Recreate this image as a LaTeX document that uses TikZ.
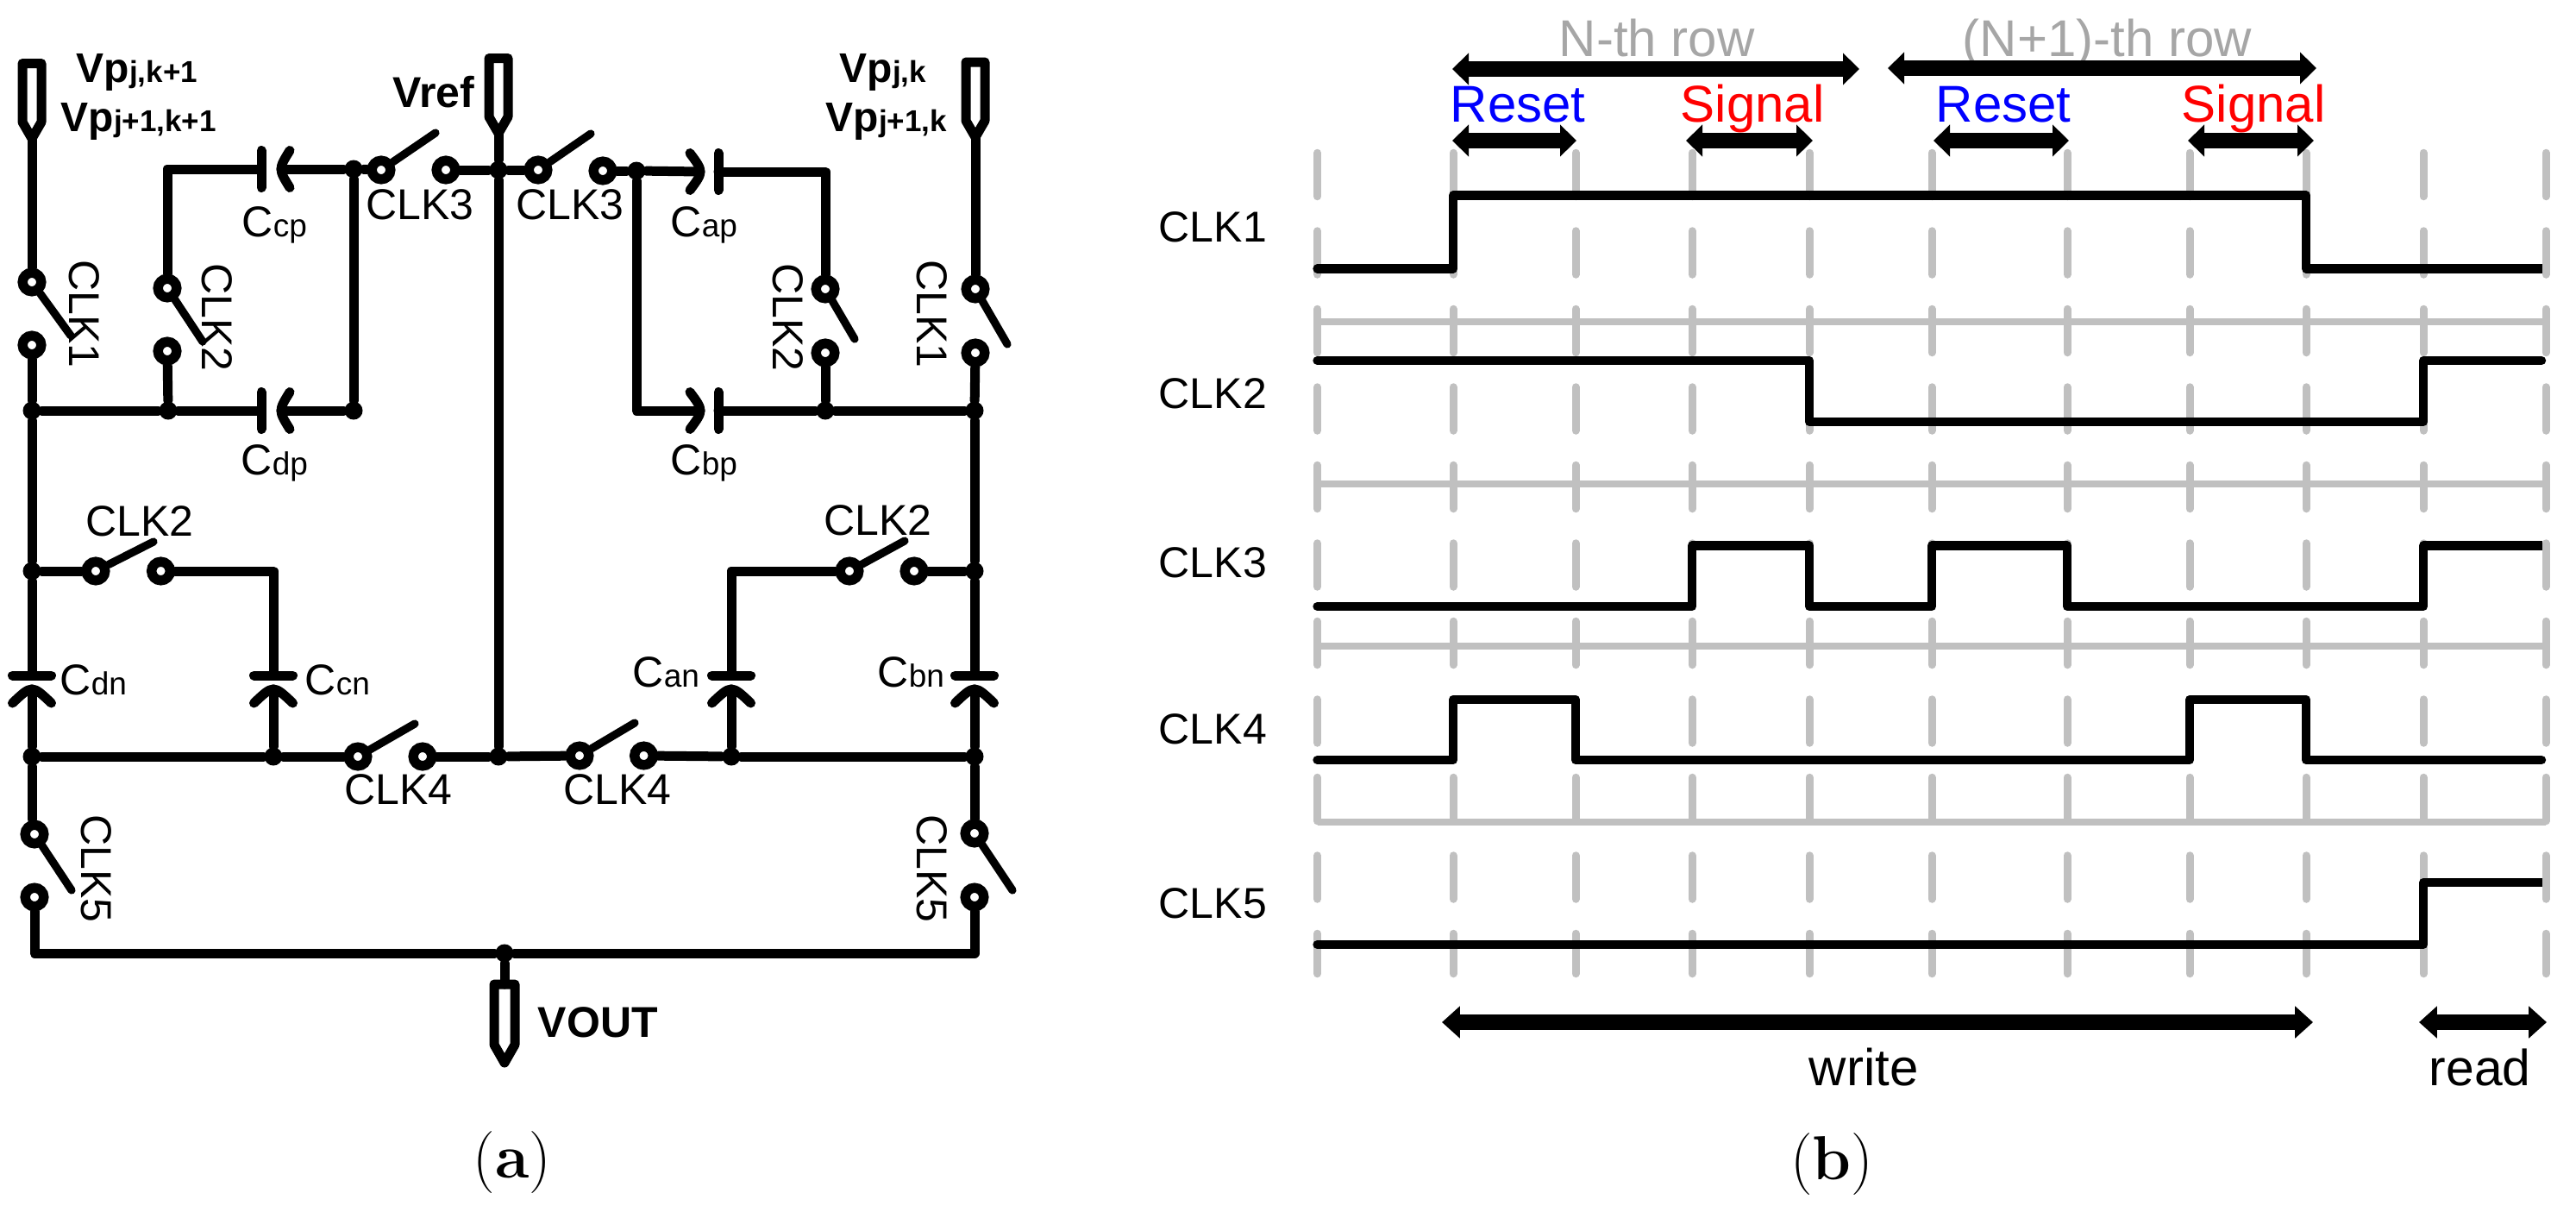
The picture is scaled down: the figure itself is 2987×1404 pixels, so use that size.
\documentclass[tikz,border=0pt]{standalone}
\usepackage{fontspec}
\usetikzlibrary{arrows.meta}
\newfontfamily\arialf{Liberation Sans}
\newcommand\fs[1]{\fontsize{#1}{#1}\selectfont}
\newcommand\capname[2]{{\fs{12.5}#1}{\fs{9.25}#2}}
\newcommand\vpname[1]{{\fs{12}Vp}{\fs{8.75}#1}}
\newcommand\padpin[3]{%
  \draw[wire] ({#2-11},#3) -- ({#2+11},#3) -- ({#2+11},{#3+68}) -- (#2,{#3+87}) -- ({#2-11},{#3+68}) -- cycle;
  \coordinate (#1) at (#2,{#3+87});}
\newcommand\hcapL[3]{%
  \coordinate (#1-a) at (#2,#3); \coordinate (#1-b) at ({#2+23},#3);
  \draw[wire] (#2,{#3-21.5}) -- (#2,{#3+21.5});
  \draw[wire] ({#2+33},{#3-21.5}) .. controls ({#2+19.7},#3) .. ({#2+33},{#3+21.5});}
\newcommand\hcapR[3]{%
  \coordinate (#1-a) at (#2,#3); \coordinate (#1-b) at ({#2-21},#3);
  \draw[wire] (#2,{#3-21.5}) -- (#2,{#3+21.5});
  \draw[wire] ({#2-33},{#3-21.5}) .. controls ({#2-17},#3) .. ({#2-33},{#3+21.5});}
\newcommand\vcapD[3]{%
  \coordinate (#1-a) at (#2,#3); \coordinate (#1-b) at (#2,{#3+16});
  \draw[wire] ({#2-22.5},#3) -- ({#2+22.5},#3);
  \draw[wire] ({#2-22.5},{#3+32}) .. controls (#2,{#3+10.7}) .. ({#2+22.5},{#3+32});}
\tikzset{
  wire/.style={line width=2.75pt,line cap=round,line join=round},
  arm/.style={line width=2.3pt,line cap=round},
  term/.style={circle,draw,line width=2.85pt,minimum size=5.4pt,inner sep=0pt},
  junc/.style={circle,fill=black,minimum size=5.25pt,inner sep=0pt},
  lab/.style={font=\arialf\fs{12.5},inner sep=0pt},
  tlab/.style={font=\arialf\fs{15},inner sep=0pt,anchor=base west},
  blab/.style={font=\arialf\bfseries\fs{12.5},inner sep=0pt,anchor=base west},
  clab/.style={font=\arialf,inner sep=0pt,anchor=base west},
  gdash/.style={draw=gridgray,line width=2.25pt,line cap=round,dash pattern=on 12.625pt off 10pt},
  gline/.style={draw=gridgray,line width=2pt},
  wave/.style={line width=2.6pt,line cap=round,line join=round},
  span/.style={line width=4.4pt,{Triangle[length=4.75pt,width=9pt]}-{Triangle[length=4.75pt,width=9pt]}},
  spanw/.style={line width=4.4pt,{Triangle[length=5.2pt,width=9pt]}-{Triangle[length=5.2pt,width=9pt]}},
  capt/.style={font=\fs{18},inner sep=0pt,anchor=base},
}
\definecolor{gridgray}{HTML}{C0C0C0}
\definecolor{rowgray}{HTML}{A6A6A6}
\definecolor{rstblue}{HTML}{0000FF}
\definecolor{sigred}{HTML}{FF0000}
\begin{document}
\begin{tikzpicture}[x=0.25pt,y=-0.25pt]
\useasboundingbox (0,0) rectangle (2987,1404);

% ---------- circuit: pins
\padpin{pL}{37}{73.5}
\padpin{pC}{578}{67.5}
\padpin{pR}{1131}{72}
\draw[wire] (573,1141) -- (597,1141) -- (597,1211) -- (585,1232) -- (573,1211) -- cycle;
\coordinate (pO) at (585,1141);

% ---------- capacitors
\hcapL{ccp}{303}{196}
\hcapL{cdp}{303}{476}
\hcapR{cap}{833}{199}
\hcapR{cbp}{833}{476}
\vcapD{cdn}{37}{783}
\vcapD{ccn}{317}{783}
\vcapD{can}{848}{783}
\vcapD{cbn}{1130}{783}

% ---------- junctions
\node[junc] (jL1) at (37,476) {};
\node[junc] (jL2) at (37,662) {};
\node[junc] (jL3) at (37,877) {};
\node[junc] (jA)  at (195,476) {};
\node[junc] (jT1) at (410,196) {};
\node[junc] (jT3) at (410,476) {};
\node[junc] (jC)  at (578,197) {};
\node[junc] (jM)  at (578,877) {};
\node[junc] (jT2) at (738,198) {};
\node[junc] (jB1) at (957,476) {};
\node[junc] (jR1) at (1130,476) {};
\node[junc] (jR2) at (1130,662) {};
\node[junc] (jR3) at (1130,877) {};
\node[junc] (jN1) at (317,877) {};
\node[junc] (jN2) at (848,877) {};
\node[junc] (jO)  at (585,1105) {};

% ---------- switch contacts
\node[term] (s1a) at (37,327) {};   \node[term] (s1b) at (37,400) {};   \coordinate (e1) at (82,389);
\node[term] (s2a) at (194,334) {};  \node[term] (s2b) at (194,407) {};  \coordinate (e2) at (235,396);
\node[term] (s3a) at (442,197) {};  \node[term] (s3b) at (517,197) {};  \coordinate (e3) at (505,154);
\node[term] (s4a) at (624,197) {};  \node[term] (s4b) at (699,198) {};  \coordinate (e4) at (685,155);
\node[term] (s5a) at (957,335) {};  \node[term] (s5b) at (957,409) {};  \coordinate (e5) at (991,393);
\node[term] (s6a) at (1131,335) {}; \node[term] (s6b) at (1131,409) {}; \coordinate (e6) at (1168,399);
\node[term] (s7a) at (111,662) {};  \node[term] (s7b) at (186.5,662) {}; \coordinate (e7) at (178,628);
\node[term] (s8a) at (985,662) {};  \node[term] (s8b) at (1060,662) {}; \coordinate (e8) at (1049,627);
\node[term] (s9a) at (415,877) {};  \node[term] (s9b) at (490,877) {};  \coordinate (e9) at (481,839);
\node[term] (sAa) at (672,876) {};  \node[term] (sAb) at (746.5,876) {}; \coordinate (eA) at (736,838);
\node[term] (sBa) at (40,967) {};   \node[term] (sBb) at (40,1040) {};  \coordinate (eB) at (83,1032);
\node[term] (sCa) at (1130,966) {}; \node[term] (sCb) at (1130,1040) {}; \coordinate (eC) at (1174,1032);
\coordinate (kB) at (37,950);

% ---------- switch blades
\foreach \s/\e in {s1a/e1,s2a/e2,s3a/e3,s4a/e4,s5a/e5,s6a/e6,s7a/e7,s8a/e8,s9a/e9,sAa/eA,sBa/eB,sCa/eC}
  \draw[arm] (\s) -- (\e);

% ---------- wires
\draw[wire] (pL) -- (s1a);
\draw[wire] (s1b) -- (jL1);
\draw[wire] (jL1) -- (jL2);
\draw[wire] (jL2) -- (cdn-a);
\draw[wire] (cdn-b) -- (jL3);
\draw[wire] (jL3) -- (kB);
\draw[wire] (s2a) |- (ccp-a);
\draw[wire] (s2b) -- (jA);
\draw[wire] (jL1) -- (jA);
\draw[wire] (jA) -- (cdp-a);
\draw[wire] (cdp-b) -- (jT3);
\draw[wire] (ccp-b) -- (jT1);
\draw[wire] (jT1) -- (jT3);
\draw[wire] (jT1) -- (s3a);
\draw[wire] (s3b) -- (jC);
\draw[wire] (pC) -- (jC);
\draw[wire] (jC) -- (s4a);
\draw[wire] (jC) -- (jM);
\draw[wire] (s4b) -- (jT2);
\draw[wire] (jT2) -- (cap-b);
\draw[wire] (jT2) |- (cbp-b);
\draw[wire] (cap-a) -| (s5a);
\draw[wire] (s5b) -- (jB1);
\draw[wire] (cbp-a) -- (jB1);
\draw[wire] (jB1) -- (jR1);
\draw[wire] (pR) -- (s6a);
\draw[wire] (s6b) -- (jR1);
\draw[wire] (jR1) -- (jR2);
\draw[wire] (jR2) -- (cbn-a);
\draw[wire] (cbn-b) -- (jR3);
\draw[wire] (jR3) -- (sCa);
\draw[wire] (jL2) -- (s7a);
\draw[wire] (s7b) -| (ccn-a);
\draw[wire] (ccn-b) -- (jN1);
\draw[wire] (jL3) -- (jN1);
\draw[wire] (jN1) -- (s9a);
\draw[wire] (s9b) -- (jM);
\draw[wire] (jM) -- (sAa);
\draw[wire] (sAb) -- (jN2);
\draw[wire] (jN2) -- (jR3);
\draw[wire] (jN2) -- (can-b);
\draw[wire] (can-a) |- (s8a);
\draw[wire] (s8b) -- (jR2);
\draw[wire] (sBb) |- (jO);
\draw[wire] (sCb) |- (jO);
\draw[wire] (jO) -- (pO);

% ---------- circuit labels
\node[clab,font=\arialf\bfseries] (lv1) at (88,95)  {\vpname{j,k+1}};
\node[clab,font=\arialf\bfseries] (lv2) at (70,152) {\vpname{j+1,k+1}};
\node[clab,font=\arialf\bfseries] (lv3) at (973,95) {\vpname{j,k}};
\node[clab,font=\arialf\bfseries] (lv4) at (957,152) {\vpname{j+1,k}};
\node[blab] (lref) at (455,124) {Vref};
\node[blab] (lout) at (623,1202) {VOUT};
\node[clab] (lccp) at (280,274) {\capname{C}{cp}};
\node[clab] (lcdp) at (279,550) {\capname{C}{dp}};
\node[clab] (lcap) at (777,274) {\capname{C}{ap}};
\node[clab] (lcbp) at (777,550) {\capname{C}{bp}};
\node[clab] (lcdn) at (69,805)  {\capname{C}{dn}};
\node[clab] (lccn) at (353,805) {\capname{C}{cn}};
\node[clab] (lcan) at (733,796) {\capname{C}{an}};
\node[clab] (lcbn) at (1017,796) {\capname{C}{bn}};
\node[lab] (t1) at (487,237) {CLK3};
\node[lab] (t2) at (661,237) {CLK3};
\node[lab] (t3) at (162,604) {CLK2};
\node[lab] (t4) at (1018,603) {CLK2};
\node[lab] (t5) at (462,915) {CLK4};
\node[lab] (t6) at (716,915) {CLK4};
\node[lab,rotate=-90] (r1) at (98,364)   {CLK1};
\node[lab,rotate=-90] (r2) at (252,368)  {CLK2};
\node[lab,rotate=-90] (r3) at (914,368)  {CLK2};
\node[lab,rotate=-90] (r4) at (1081,364) {CLK1};
\node[lab,rotate=-90] (r5) at (112,1007) {CLK5};
\node[lab,rotate=-90] (r6) at (1081,1007) {CLK5};

% ---------- timing: grid
\foreach \x in {1527.5,1685,1827,1962,2098,2240,2397,2539,2674,2810,2952}
  \draw[gdash] (\x,177.25) -- (\x,1128.75);
\foreach \y in {373,560.5,749,953}
  \draw[gline] (1527.5,\y) -- (2952,\y);

% ---------- timing: waveforms
\draw[wave] (1527.5,311.5) -- (1685,311.5) -- (1685,226.5) -- (2674,226.5) -- (2674,311.5) -- (2930,311.5);
\draw[wave,line cap=butt] (2930,311.5) -- (2948,311.5);
\draw[wave] (1527.5,418) -- (2098,418) -- (2098,489) -- (2810,489) -- (2810,418) -- (2947,418);
\draw[wave] (1527.5,703) -- (1962,703) -- (1962,632.5) -- (2098,632.5) -- (2098,703) -- (2240,703) -- (2240,632.5) -- (2397,632.5) -- (2397,703) -- (2810,703) -- (2810,632.5) -- (2930,632.5);
\draw[wave,line cap=butt] (2930,632.5) -- (2948,632.5);
\draw[wave] (1527.5,881) -- (1685,881) -- (1685,811) -- (1827,811) -- (1827,881) -- (2539,881) -- (2539,811) -- (2674,811) -- (2674,881) -- (2947,881);
\draw[wave] (1527.5,1095) -- (2810,1095) -- (2810,1023) -- (2930,1023);
\draw[wave,line cap=butt] (2930,1023) -- (2948,1023);

% ---------- timing: labels
\node[clab,font=\arialf\fs{12.5}] (c1) at (1343,280)  {CLK1};
\node[clab,font=\arialf\fs{12.5}] (c2) at (1343,473)  {CLK2};
\node[clab,font=\arialf\fs{12.5}] (c3) at (1343,669)  {CLK3};
\node[clab,font=\arialf\fs{12.5}] (c4) at (1343,862)  {CLK4};
\node[clab,font=\arialf\fs{12.5}] (c5) at (1343,1064) {CLK5};
\node[tlab,text=rowgray] (n1) at (1807,65) {N-th row};
\node[tlab,text=rowgray] (n2) at (2275,65) {(N+1)-th row};
\node[tlab,text=rstblue] (a1) at (1681,141) {Reset};
\node[tlab,text=sigred]  (a2) at (1948,141) {Signal};
\node[tlab,text=rstblue] (a3) at (2244,141) {Reset};
\node[tlab,text=sigred]  (a4) at (2529,141) {Signal};
\node[tlab] (w1) at (2097,1258) {write};
\node[tlab,font=\arialf\fs{14.7}] (w2) at (2816,1258) {read};

% ---------- timing: spans
\coordinate (b1) at (1684,80);   \coordinate (b2) at (2156,80);
\coordinate (b3) at (2189,79);   \coordinate (b4) at (2686,79);
\coordinate (b5) at (1684,163);  \coordinate (b6) at (1828,163);
\coordinate (b7) at (1955,163);  \coordinate (b8) at (2102,163);
\coordinate (b9) at (2242,163);  \coordinate (bA) at (2399,163);
\coordinate (bB) at (2537,163);  \coordinate (bC) at (2683,163);
\coordinate (bD) at (1672,1185); \coordinate (bE) at (2682,1185);
\coordinate (bF) at (2805,1185); \coordinate (bG) at (2953,1185);
\foreach \u/\v in {b1/b2,b3/b4,b5/b6,b7/b8,b9/bA,bB/bC}
  \draw[span] (\u) -- (\v);
\foreach \u/\v in {bD/bE,bF/bG}
  \draw[spanw] (\u) -- (\v);

% ---------- captions
\node[capt] (ca) at (594,1365) {(\textbf{a})};
\node[capt] (cb) at (2124,1367) {(\textbf{b})};
\end{tikzpicture}
\end{document}
